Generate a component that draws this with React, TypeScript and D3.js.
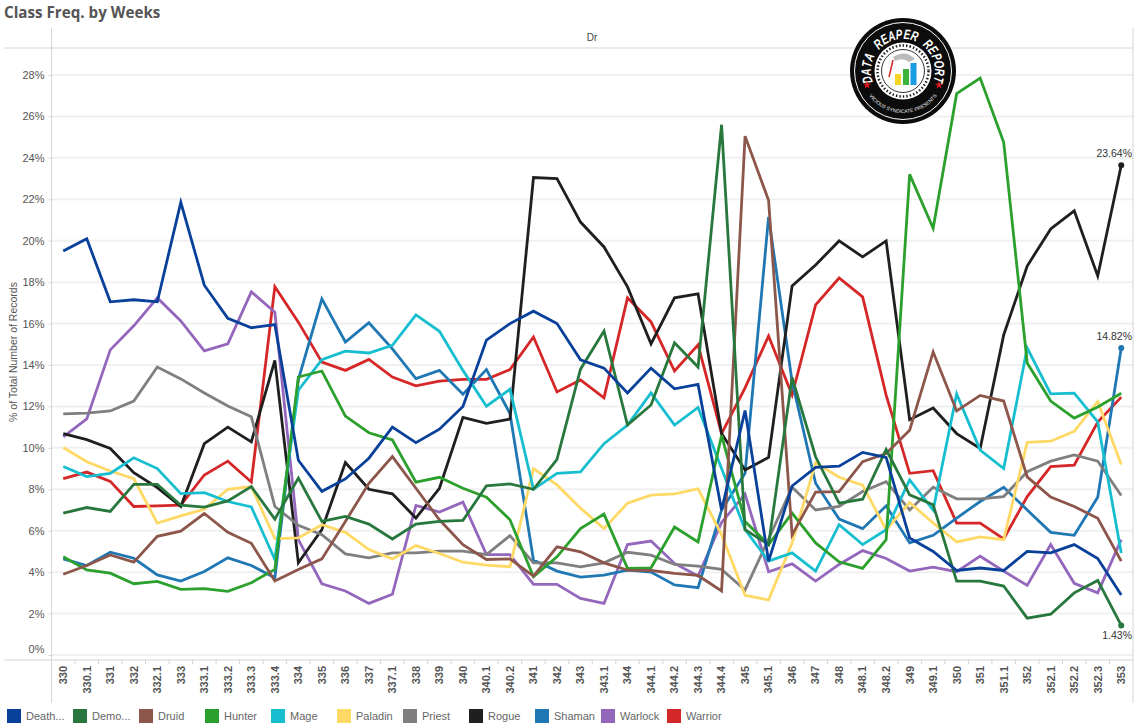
import { useEffect, useRef } from 'react';
import * as d3 from 'd3';

const weeks = [
  '330', '330.1', '331', '332', '332.1', '333', '333.1', '333.2', '333.3', '333.4',
  '334', '335', '336', '337', '337.1', '338', '339', '340', '340.1', '340.2',
  '341', '342', '343', '343.1', '344', '344.1', '344.2', '344.3', '344.4', '345',
  '345.1', '346', '347', '348', '348.1', '348.2', '349', '349.1', '350', '351',
  '351.1', '352', '352.1', '352.2', '352.3', '353',
];

const deathKnight = [19.5, 20.1, 17.05, 17.15, 17.05, 21.85, 17.85, 16.25, 15.8, 15.95, 9.4, 7.9, 8.5, 9.5, 11.0, 10.25, 10.9, 12.0, 15.2, 16.0, 16.6, 16.0, 14.25, 13.85, 12.65, 13.85, 12.85, 13.06, 7.0, 11.8, 4.53, 8.16, 9.06, 9.12, 9.78, 9.54, 5.65, 5.0, 4.08, 4.2, 4.08, 5.0, 4.93, 5.33, 4.66, 2.9];
const demonHunter = [6.85, 7.12, 6.93, 8.24, 8.24, 7.23, 7.14, 7.44, 8.13, 6.56, 8.54, 6.45, 6.69, 6.32, 5.6, 6.32, 6.45, 6.5, 8.17, 8.26, 8.0, 9.45, 13.8, 15.64, 11.1, 12.07, 15.07, 13.9, 25.6, 6.05, 5.33, 13.4, 9.57, 7.33, 7.52, 9.92, 7.73, 7.25, 3.57, 3.57, 3.33, 1.78, 1.97, 3.0, 3.6, 1.43];
const druid = [3.9, 4.32, 4.83, 4.48, 5.73, 5.98, 6.83, 5.92, 5.39, 3.57, 4.13, 4.64, 6.45, 8.29, 9.58, 8.05, 6.53, 5.33, 4.61, 4.64, 3.81, 5.22, 4.98, 4.45, 4.1, 4.08, 3.94, 3.84, 3.09, 25.05, 21.95, 5.8, 7.86, 7.89, 9.33, 9.73, 10.85, 14.63, 11.78, 12.53, 12.26, 8.6, 7.62, 7.17, 6.6, 4.53];
const hunter = [4.74, 4.11, 3.95, 3.44, 3.55, 3.17, 3.2, 3.07, 3.49, 4.13, 13.42, 13.71, 11.53, 10.73, 10.38, 8.34, 8.58, 8.05, 7.62, 6.53, 3.78, 4.74, 6.1, 6.8, 4.18, 4.21, 6.18, 5.46, 10.6, 6.45, 5.33, 6.85, 5.41, 4.5, 4.18, 5.57, 23.2, 20.6, 27.1, 27.85, 24.75, 14.1, 12.26, 11.44, 11.97, 12.64];
const mage = [9.1, 8.61, 8.77, 9.52, 9.0, 7.79, 7.84, 7.41, 7.15, 4.61, 12.78, 14.26, 14.67, 14.58, 14.95, 16.42, 15.63, 13.74, 12.01, 12.83, 8.0, 8.77, 8.84, 10.2, 11.1, 12.65, 11.1, 11.95, 9.0, 6.05, 4.53, 4.93, 4.05, 6.29, 5.33, 6.05, 8.45, 7.0, 12.6, 9.89, 9.0, 14.82, 12.61, 12.64, 11.25, 4.93];
const paladin = [10.02, 9.33, 8.88, 8.51, 6.37, 6.72, 7.04, 8.0, 8.13, 5.62, 5.65, 6.29, 5.92, 5.09, 4.64, 5.28, 4.9, 4.48, 4.34, 4.26, 9.0, 8.21, 7.09, 6.1, 7.33, 7.72, 7.78, 8.02, 5.81, 2.88, 2.66, 5.41, 9.28, 8.58, 8.2, 6.05, 7.36, 6.37, 5.46, 5.7, 5.57, 10.27, 10.32, 10.8, 12.24, 9.2];
const priest = [11.64, 11.68, 11.78, 12.26, 13.9, 13.33, 12.65, 12.02, 11.5, 7.17, 6.26, 5.81, 4.88, 4.69, 4.93, 4.93, 5.01, 5.01, 4.85, 5.76, 4.45, 4.45, 4.26, 4.45, 4.96, 4.82, 4.37, 4.29, 4.13, 3.14, 5.6, 8.1, 7.0, 7.17, 7.89, 8.37, 7.0, 8.1, 7.54, 7.54, 7.65, 8.85, 9.36, 9.66, 9.36, 7.7];
const rogue = [10.69, 10.4, 9.97, 8.8, 8.08, 7.17, 10.2, 11.0, 10.29, 14.22, 4.45, 6.05, 9.29, 8.0, 7.78, 6.61, 8.05, 11.47, 11.18, 11.39, 23.05, 23.0, 20.9, 19.7, 17.77, 15.02, 17.24, 17.43, 10.69, 8.93, 9.54, 17.82, 18.83, 19.99, 19.22, 19.99, 11.36, 11.92, 10.69, 9.97, 15.45, 18.78, 20.57, 21.44, 18.3, 23.64];
const shaman = [4.64, 4.32, 4.96, 4.67, 3.87, 3.57, 4.03, 4.69, 4.32, 3.73, 13.3, 17.19, 15.11, 16.04, 14.78, 13.34, 13.74, 12.59, 13.78, 11.66, 4.58, 4.05, 3.76, 3.86, 4.1, 4.0, 3.38, 3.25, 7.0, 8.77, 21.15, 13.2, 8.29, 6.56, 6.1, 7.2, 5.41, 5.78, 6.61, 7.41, 8.1, 7.0, 5.92, 5.78, 7.62, 14.82];
const warlock = [10.53, 11.4, 14.73, 15.89, 17.24, 16.13, 14.68, 15.02, 17.53, 16.55, 5.57, 3.44, 3.09, 2.49, 2.93, 7.22, 6.9, 7.38, 4.85, 4.85, 3.41, 3.41, 2.73, 2.49, 5.33, 5.5, 4.42, 3.81, 6.4, 7.76, 4.02, 4.4, 3.57, 4.37, 5.04, 4.66, 4.05, 4.24, 4.02, 4.77, 4.05, 3.36, 5.33, 3.46, 3.0, 5.57];
const warrior = [8.51, 8.83, 8.38, 7.17, 7.2, 7.23, 8.69, 9.36, 8.35, 17.78, 16.07, 14.14, 13.74, 14.27, 13.42, 12.99, 13.22, 13.31, 13.31, 13.78, 15.35, 12.7, 13.28, 12.41, 17.24, 16.08, 13.71, 14.97, 10.69, 12.9, 15.4, 12.55, 16.9, 18.2, 17.29, 12.55, 8.77, 8.9, 6.37, 6.37, 5.6, 7.65, 9.09, 9.17, 11.25, 12.45];

const classNames = ['Death...', 'Demo...', 'Druid', 'Hunter', 'Mage', 'Paladin', 'Priest', 'Rogue', 'Shaman', 'Warlock', 'Warrior'];
const classColors = ['#08409a', '#28783e', '#8c564b', '#2ca02c', '#17becf', '#ffd966', '#7f7f7f', '#1f1f1f', '#1f77b4', '#9467bd', '#d62728'];
const classValues = [deathKnight, demonHunter, druid, hunter, mage, paladin, priest, rogue, shaman, warlock, warrior];

// end of line labels: series index and where the text sits relative to the dot
const endLabels = [
  { series: 7, dy: -8 },
  { series: 8, dy: -8 },
  { series: 1, dy: 14 },
];

const WIDTH = 1140;
const HEIGHT = 728;
const ARIAL = '"Liberation Sans", Arial, sans-serif';

function drawLogo(svg: d3.Selection<SVGSVGElement, unknown, null, undefined>) {
  const cx = 903;
  const cy = 71;
  const g = svg.append('g').attr('transform', `translate(${cx},${cy})`);
  g.append('circle').attr('r', 53).attr('fill', '#0c0c0c');
  g.append('circle').attr('r', 48.5).attr('fill', 'none').attr('stroke', '#fff').attr('stroke-width', 1);
  g.append('circle').attr('r', 28.5).attr('fill', '#fff');
  g.append('circle').attr('r', 25.5).attr('fill', 'none').attr('stroke', '#222').attr('stroke-width', 2.5).attr('stroke-dasharray', '1.5 2');
  g.append('circle').attr('r', 21.5).attr('fill', '#fff').attr('stroke', '#333').attr('stroke-width', 1);

  // one glyph at a time so the letters can be tall and narrow round the ring
  const title = 'DATA REAPER REPORT'.split('');
  const angle = d3.scaleLinear().domain([0, title.length - 1]).range([-104, 104]);
  g.append('g')
    .selectAll('text')
    .data(title)
    .join('text')
    .attr('transform', (_, i) => `rotate(${angle(i)}) translate(0,-32) scale(0.85,1.2)`)
    .attr('text-anchor', 'middle')
    .attr('font-family', ARIAL)
    .attr('font-weight', 'bold')
    .attr('font-style', 'italic')
    .attr('font-size', 11.5)
    .attr('fill', '#fff')
    .text((d) => d);

  const low = d3.path();
  low.arc(0, 0, 42, (155 * Math.PI) / 180, (25 * Math.PI) / 180, true);
  g.append('path').attr('id', 'logo-bottom').attr('d', low.toString()).attr('fill', 'none');
  g.append('text')
    .attr('font-family', ARIAL)
    .attr('font-size', 5)
    .attr('fill', '#eee')
    .append('textPath')
    .attr('href', '#logo-bottom')
    .attr('startOffset', '50%')
    .attr('text-anchor', 'middle')
    .text('VICIOUS SYNDICATE PRESENTS');

  const star = d3.symbol().type(d3.symbolStar).size(22);
  [-36, 36].forEach((dx) => {
    g.append('path').attr('d', star()).attr('transform', `translate(${dx},14)`).attr('fill', '#e0191f');
  });

  // bars and reaper in the middle
  g.append('path').attr('d', 'M-10,-14 Q3,-22 12,-12 L6,-9 Q0,-14 -8,-10 Z').attr('fill', '#bbb');
  g.append('line').attr('x1', -14).attr('y1', 6).attr('x2', -10).attr('y2', -11).attr('stroke', '#d62728').attr('stroke-width', 1.5);
  [
    { x: -8, y: 3, h: 11, c: '#f5d327' },
    { x: 0, y: -2, h: 16, c: '#3cb43c' },
    { x: 7.5, y: -8, h: 22, c: '#1a9ce0' },
  ].forEach((b) => {
    g.append('rect').attr('x', b.x).attr('y', b.y).attr('width', 6).attr('height', b.h).attr('fill', b.c);
  });
}

export default function App() {
  const svgRef = useRef<SVGSVGElement>(null);

  useEffect(() => {
    if (!svgRef.current) return;
    const svg = d3.select(svgRef.current);
    svg.selectAll('*').remove();

    const x = d3.scaleBand<string>().domain(weeks).range([51.5, 1133]);
    const y = d3.scaleLinear().domain([0, 28]).range([655, 75]);
    const cx = (i: number) => (x(weeks[i]) as number) + x.bandwidth() / 2;

    svg
      .append('text')
      .attr('x', 4)
      .attr('y', 18)
      .attr('font-family', '"Open Sans", sans-serif')
      .attr('font-weight', 'bold')
      .attr('font-size', 15.2)
      .attr('fill', '#555')
      .text('Class Freq. by Weeks');

    // gridlines
    svg
      .append('g')
      .selectAll('line')
      .data(d3.range(0, 29, 2))
      .join('line')
      .attr('x1', 52)
      .attr('x2', 1133)
      .attr('y1', (d) => y(d))
      .attr('y2', (d) => y(d))
      .attr('stroke', '#f0f0f0')
      .attr('stroke-width', 2);

    // frame
    const frame = '#d4d4d4';
    [
      [4, 48, 1133, 48],
      [4, 660, 1133, 660],
      [51.5, 28, 51.5, 703],
      [1133, 28, 1133, 703],
    ].forEach(([x1, y1, x2, y2]) => {
      svg.append('line').attr('x1', x1).attr('y1', y1).attr('x2', x2).attr('y2', y2).attr('stroke', frame).attr('stroke-width', 1);
    });

    svg
      .append('text')
      .attr('x', 592)
      .attr('y', 41)
      .attr('text-anchor', 'middle')
      .attr('font-family', ARIAL)
      .attr('font-size', 10)
      .attr('fill', '#444')
      .text('Dr');

    // y axis
    const yAxis = svg
      .append('g')
      .attr('transform', 'translate(51.5,0)')
      .call(d3.axisLeft(y).tickValues(d3.range(0, 29, 2)).tickFormat((d) => `${d}%`).tickSize(3).tickPadding(4));
    yAxis.select('.domain').remove();
    yAxis.selectAll('line').attr('stroke', frame);
    yAxis.selectAll('text').attr('font-family', ARIAL).attr('font-size', 11).attr('fill', '#555');
    yAxis
      .selectAll<SVGTextElement, number>('text')
      .filter((d) => d === 0)
      .attr('dy', '-0.2em');

    svg
      .append('text')
      .attr('transform', 'translate(17,352) rotate(-90)')
      .attr('text-anchor', 'middle')
      .attr('font-family', ARIAL)
      .attr('font-size', 10.5)
      .attr('fill', '#555')
      .text('% of Total Number of Records');

    // x axis
    const xAxis = svg
      .append('g')
      .attr('transform', 'translate(0,660)')
      .call(d3.axisBottom(x).tickSize(0).tickPadding(6));
    xAxis.select('.domain').remove();
    xAxis
      .selectAll('text')
      .attr('transform', 'rotate(-90)')
      .attr('text-anchor', 'end')
      .attr('x', -6)
      .attr('y', 0)
      .attr('dy', '0.35em')
      .attr('font-family', ARIAL)
      .attr('font-size', 11)
      .attr('font-weight', 'bold')
      .attr('fill', '#555');
    svg
      .append('g')
      .selectAll('line')
      .data(weeks.slice(1))
      .join('line')
      .attr('x1', (d) => x(d) as number)
      .attr('x2', (d) => x(d) as number)
      .attr('y1', 660)
      .attr('y2', 664)
      .attr('stroke', frame);

    // lines, first legend entry ends up on top
    const line = d3
      .line<number>()
      .x((_, i) => cx(i))
      .y((d) => y(d));
    d3.range(classValues.length)
      .reverse()
      .forEach((s) => {
        svg
          .append('path')
          .datum(classValues[s])
          .attr('d', line)
          .attr('fill', 'none')
          .attr('stroke', classColors[s])
          .attr('stroke-width', 2.8)
          .attr('stroke-linejoin', 'miter');
      });

    const last = weeks.length - 1;
    endLabels.forEach(({ series, dy }) => {
      const v = classValues[series][last];
      svg.append('circle').attr('cx', cx(last)).attr('cy', y(v)).attr('r', 3).attr('fill', classColors[series]);
      svg
        .append('text')
        .attr('x', 1132)
        .attr('y', y(v) + dy)
        .attr('text-anchor', 'end')
        .attr('font-family', ARIAL)
        .attr('font-size', 10.5)
        .attr('fill', '#333')
        .text(`${v.toFixed(2)}%`);
    });

    drawLogo(svg);

    // legend
    const legend = svg
      .append('g')
      .selectAll('g')
      .data(classNames)
      .join('g')
      .attr('transform', (_, i) => `translate(${7 + 66 * i},709)`);
    legend.append('rect').attr('width', 14).attr('height', 14).attr('fill', (_, i) => classColors[i]);
    legend
      .append('text')
      .attr('x', 19)
      .attr('y', 11)
      .attr('font-family', ARIAL)
      .attr('font-size', 11)
      .attr('fill', '#666')
      .text((d) => d);
  }, []);

  return (
    <div style={{ position: 'absolute', left: 0, top: 0 }}>
      <svg ref={svgRef} width={WIDTH} height={HEIGHT} style={{ display: 'block', background: '#fff' }} />
    </div>
  );
}
